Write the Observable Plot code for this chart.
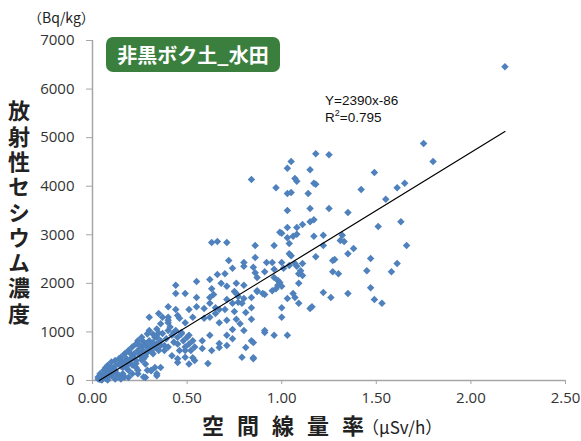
<!DOCTYPE html>
<html><head><meta charset="utf-8">
<script src="https://cdn.jsdelivr.net/npm/d3@7"></script>
<script src="https://cdn.jsdelivr.net/npm/@observablehq/plot@0.6"></script>
<style>
html,body{margin:0;padding:0;background:#fff;}
#wrap{position:relative;width:581px;height:441px;font-family:"Noto Sans CJK JP",sans-serif;}
#chart svg{display:block;}
.ov{position:absolute;white-space:nowrap;}
#unit{left:28px;top:8px;font-size:14px;color:#222;line-height:18px;}
#badge{left:106px;top:37px;width:174px;height:35px;line-height:35px;background:#3b7f3f;border-radius:7px;color:#fff;font-size:20px;font-weight:700;text-align:center;}
#ytitle{left:7px;top:100px;writing-mode:vertical-rl;text-orientation:upright;font-size:22px;font-weight:700;letter-spacing:3.3px;color:#222;line-height:24px;}
#xtitle{left:202px;top:413px;font-size:22px;font-weight:700;line-height:22px;color:#222;}
#xtitle .sp{letter-spacing:13px;}
#xtitle .unit{font-size:17px;font-weight:400;margin-left:-2px;}
#eq{left:325px;top:92px;font-family:"Liberation Sans",Arial,sans-serif;font-size:13.5px;line-height:17px;color:#111;}
#eq sup{font-size:9px;vertical-align:6px;line-height:0;}
</style></head><body>
<div id="wrap">
<div id="chart"></div>
<div class="ov" id="unit"></div>
<div class="ov" id="badge"></div>
<div class="ov" id="ytitle"></div>
<div class="ov" id="xtitle"></div>
<div class="ov" id="eq"></div>
</div>
<script>
// Air dose rate (µSv/h) of each sample
const doseRate = [
  0.84,0.63,0.66,0.71,0.86,0.96,1.05,1.03,1.18,1.25,
  1.15,1.07,1.08,0.97,1.03,1.05,1.17,1.18,1.14,1.03,
  1.15,1.25,0.99,1.00,1.03,1.08,1.11,1.15,1.17,1.06,
  1.08,1.17,1.22,1.04,2.18,1.75,1.80,1.49,1.42,1.61,
  1.65,1.55,1.35,1.51,1.63,1.66,1.32,1.33,1.22,1.38,
  1.61,1.58,1.47,1.45,1.35,1.31,1.03,1.18,1.27,1.28,
  1.27,1.30,1.22,1.26,1.35,1.47,1.49,1.53,0.86,0.92,
  0.95,1.00,1.04,1.05,1.07,1.08,1.11,1.10,1.09,1.04,
  1.11,1.01,0.96,0.91,0.85,0.87,0.96,0.98,0.99,0.98,
  0.97,1.00,0.87,0.91,1.06,1.07,1.03,1.09,1.09,1.16,
  1.15,1.00,1.00,0.91,0.96,1.03,0.84,0.84,0.85,0.85,
  0.72,0.80,0.80,0.74,0.86,0.66,0.70,0.62,0.44,0.55,
  0.68,0.71,0.76,0.80,0.63,0.75,0.76,0.77,0.87,0.90,
  0.95,0.44,0.49,0.55,0.62,0.64,0.71,0.74,0.77,0.80,
  0.84,0.40,0.44,0.51,0.55,0.59,0.62,0.65,0.67,0.70,
  0.75,0.79,0.81,0.30,0.35,0.37,0.40,0.45,0.46,0.49,
  0.40,0.53,0.59,0.62,0.65,0.67,0.71,0.76,0.78,0.91,
  0.84,0.80,0.74,0.71,0.74,0.71,0.67,0.62,0.58,0.53,
  0.51,0.47,0.43,0.37,0.40,0.34,0.53,0.54,0.61,0.67,
  0.85,0.81,0.63,0.58,0.49,
  0.28,0.34,0.36,0.31,0.24,0.45,0.19,0.14,
  0.03,0.04,0.06,0.03,0.08,0.08,0.10,0.12,0.14,0.16,
  0.16,0.18,0.19,0.21,0.22,0.23,0.24,0.25,0.26,0.27,
  0.28,0.29,0.30,0.30,0.31,0.32,0.33,0.34,0.35,0.36,
  0.38,0.39,0.40,0.41,0.42,0.43,0.44,0.45,0.45,0.46,
  0.47,0.48,0.49,0.50,0.51,0.52,0.54,0.28,0.29,0.27,
  0.33,0.34,0.31,0.24,0.21,0.17,0.15,0.12,0.08,0.05,
  0.23,0.19,0.16,0.13,0.10,0.34,0.30,0.29,0.26,0.24,
  0.23,0.21,0.19,0.17,0.15,0.14,0.12,0.10,0.08,0.07,
  0.40,0.36,0.38,0.42,0.45,0.49,0.51,0.79,
  0.15,0.17,0.20,0.22,0.25,0.27,0.29,0.32,0.18,0.21,
  0.23,0.26,0.28,0.31,0.33,0.36,0.20,0.25,0.27,0.32,
  0.35,0.12,0.09,0.06,0.11,0.05,0.07,0.04
];
// Radioactive caesium concentration (Bq/kg) of each sample
const cesium = [
  4140,2840,2860,2840,2780,2780,4510,4370,4670,4650,
  4340,4160,4100,3970,3850,3870,4060,4040,3850,3500,
  3540,3540,3050,3030,3150,3150,3210,3270,3310,2970,
  3010,2970,2990,2820,6460,4880,4510,4280,3930,3970,
  4060,3730,3460,3170,3270,2780,2990,2860,2780,2720,
  2410,2240,2510,2260,2610,2880,2940,2550,2470,2490,
  2240,2200,1810,1710,1790,1910,1670,1590,2530,2430,
  2430,2430,2610,2570,2410,2350,2410,2260,2200,2370,
  2160,2310,2290,2240,2330,2120,2120,2060,2020,1960,
  1890,1940,1850,1770,1790,1710,1690,2000,1590,1520,
  1480,1500,1300,990,930,930,1500,1260,780,450,
  2470,2430,2350,2310,2220,2180,2200,2080,1960,2040,
  2000,1940,2000,1960,1890,1830,1790,1730,1830,1790,
  1850,1790,1790,1710,1710,1770,1670,1590,1610,1690,
  1710,1520,1460,1460,1520,1480,1590,1500,1460,1460,
  1420,1590,1400,1300,1380,1300,1300,1340,1280,1190,
  1190,1300,1280,1300,1380,1190,1240,1260,1170,1030,
  820,1030,1050,930,860,720,760,930,820,820,
  930,990,990,970,1030,890,470,410,350,680,
  470,680,620,660,620,
  60,100,270,210,140,370,60,100,
  70,140,210,30,70,170,270,210,340,380,
  270,450,340,480,550,410,620,510,690,450,
  750,580,820,650,720,550,890,750,620,820,
  720,860,690,1100,930,790,1030,890,750,620,
  960,820,690,890,750,620,690,340,210,70,
  270,140,200,210,140,70,30,30,10,10,
  270,210,140,140,100,1060,1030,960,890,820,
  750,690,620,550,480,450,410,380,310,270,
  1240,1170,620,510,450,480,340,480,
  300,350,420,470,560,600,680,780,250,320,
  350,420,500,600,680,720,560,720,800,950,
  980,300,200,120,160,60,40,20
];
const xTicks = [0, 0.5, 1.0, 1.5, 2.0, 2.5];
const yTicks = [0, 1000, 2000, 3000, 4000, 5000, 6000, 7000];
const trendSlope = 2390;
const trendIntercept = -86;
const trendRange = [0.036, 2.18];
const r2 = 0.795;
const panelTitle = "非黒ボク土_水田";
const yTitle = "放射性セシウム濃度";
const xTitleMain = "空間線量率";
const xTitleUnit = "（μSv/h）";
const yUnit = "（Bq/kg）";

const diamond = {
  draw(ctx, size) {
    const h = Math.sqrt(size / 2);
    ctx.moveTo(0, -h); ctx.lineTo(h, 0); ctx.lineTo(0, h); ctx.lineTo(-h, 0); ctx.closePath();
  }
};
const idx = d3.range(Math.min(doseRate.length, cesium.length));
const axisGrey = "#a6a6a6";

const chart = Plot.plot({
  width: 581, height: 441,
  marginLeft: 92, marginRight: 16, marginTop: 40, marginBottom: 61,
  style: {background: "transparent", fontFamily: "'Open Sans', sans-serif", fontSize: "15px", color: "#333"},
  x: {domain: [0, 2.5]},
  y: {domain: [0, 7000]},
  marks: [
    Plot.ruleX([0], {stroke: axisGrey, strokeWidth: 1.5}),
    Plot.ruleY([0], {stroke: axisGrey, strokeWidth: 1.5}),
    Plot.axisX(xTicks, {tickSize: 4, tickPadding: 8, tickFormat: d3.format(".2f"), stroke: axisGrey, fill: "#333", label: null}),
    Plot.axisY(yTicks, {tickSize: 6, tickPadding: 12, tickFormat: d3.format("d"), stroke: axisGrey, fill: "#333", label: null}),
    Plot.dot(idx, {x: i => doseRate[i], y: i => cesium[i], symbol: diamond, r: 3, fill: "#4f81bd"}),
    Plot.line(trendRange, {x: d => d, y: d => trendSlope * d + trendIntercept, stroke: "#000", strokeWidth: 1.2})
  ]
});
document.getElementById("chart").append(chart);
document.getElementById("unit").textContent = yUnit;
document.getElementById("badge").textContent = panelTitle;
document.getElementById("ytitle").textContent = yTitle;
const xt = document.getElementById("xtitle");
xt.innerHTML = `<span class="sp">${xTitleMain.slice(0, -1)}</span>${xTitleMain.slice(-1)}<span class="unit">${xTitleUnit}</span>`;
document.getElementById("eq").innerHTML = `Y=${trendSlope}x${trendIntercept}<br>R<sup>2</sup>=${r2}`;
</script>
</body></html>
